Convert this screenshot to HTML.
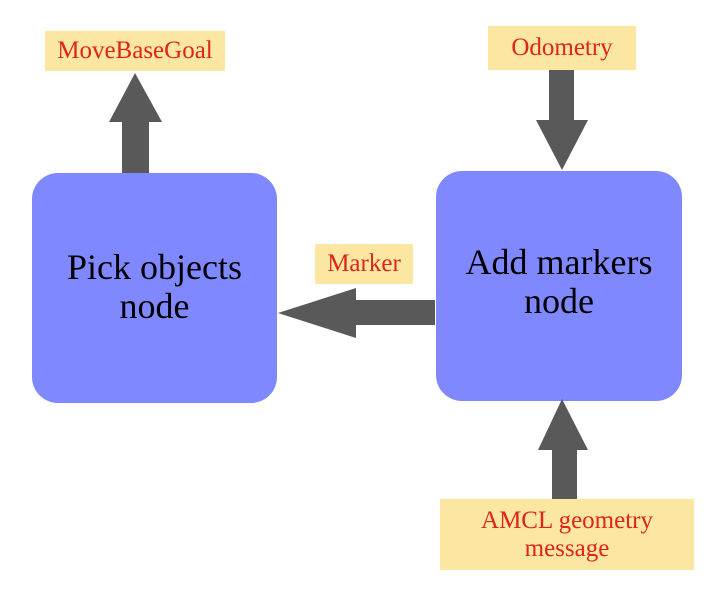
<!DOCTYPE html>
<html><head><style>
body{margin:0;width:710px;height:599px;background:#fff;position:relative;overflow:hidden;font-family:"Liberation Serif",serif}
.lbl{position:absolute;background:#fbe6a2;color:#e0241c;font-size:25px;display:flex;align-items:center;justify-content:center;text-align:center;line-height:28px;white-space:nowrap}
.box{position:absolute;background:#8088ff;border-radius:26px;color:#000;font-size:36px;text-align:center;line-height:39px;display:flex;align-items:center;justify-content:center;white-space:nowrap}
svg{position:absolute;left:0;top:0}
</style></head><body>
<div class="box" style="left:32px;top:173px;width:245px;height:230px"><span style="margin-top:-3px">Pick objects<br>node</span></div>
<div class="box" style="left:436px;top:171px;width:246px;height:230px"><span style="margin-top:-8px">Add markers<br>node</span></div>
<svg width="710" height="599">
<g fill="#595959">
<polygon points="122,173 149,173 149,122 162,122 135,73 109,122 122,122"/>
<polygon points="435,300 356,300 356,288 278,313 356,338 356,325 435,325"/>
<polygon points="549,70 574,70 574,120 588,120 562,170 536,120 549,120"/>
<polygon points="552,499 577,499 577,450 588,450 562,399 538,450 552,450"/>
</g></svg>
<div class="lbl" style="left:45px;top:31px;width:180px;height:40px">MoveBaseGoal</div>
<div class="lbl" style="left:315px;top:244px;width:98px;height:40px">Marker</div>
<div class="lbl" style="left:488px;top:26px;width:148px;height:44px">Odometry</div>
<div class="lbl" style="left:440px;top:499px;width:254px;height:71px">AMCL geometry<br>message</div>
</body></html>
